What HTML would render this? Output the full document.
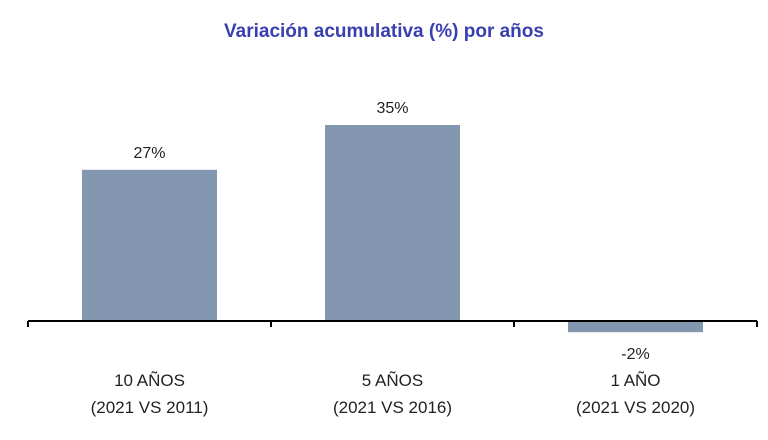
<!DOCTYPE html>
<html><head><meta charset="utf-8"><style>
body{margin:0;background:#fff;}
svg{display:block;font-family:"Liberation Sans",sans-serif;}
</style></head><body>
<svg id="chart" width="768" height="440">
<text x="384" y="37" text-anchor="middle" font-size="19" font-weight="bold" fill="#3a3fb0">Variación acumulativa (%) por años</text>
<g id="bars"></g>
</svg>
<script>
const categories=["10 AÑOS","5 AÑOS","1 AÑO"];
const subLabels=["(2021 VS 2011)","(2021 VS 2016)","(2021 VS 2020)"];
const values=[27,35,-2];
const valueLabels=["27%","35%","-2%"];
const svg=document.getElementById('chart');
const g=document.getElementById('bars');
const NS="http://www.w3.org/2000/svg";
const x0=28,x1=757,baseY=321,scale=5.6;
const band=(x1-x0)/categories.length;
const barW=135;
const y=v=>baseY-v*scale;
function mk(tag,attrs,txt){const e=document.createElementNS(NS,tag);for(const k in attrs)e.setAttribute(k,attrs[k]);if(txt!==undefined)e.textContent=txt;g.appendChild(e);return e;}
categories.forEach((c,i)=>{
  const cx=x0+band*(i+0.5);const v=values[i];
  const top=Math.min(y(v),baseY),h=Math.abs(y(v)-baseY);
  const r=mk('rect',{x:cx-barW/2,y:top,width:barW,height:h,fill:'#8497b0'});
  
  
  const ly=v>=0?y(v)-12:y(v)+27;
  const t=mk('text',{x:cx,y:ly,'text-anchor':'middle','font-size':'16',fill:'#222'},valueLabels[i]);
  
  
  const c1=mk('text',{x:cx,y:386,'text-anchor':'middle','font-size':'17',fill:'#222'},c);
  
  
  const c2=mk('text',{x:cx,y:413,'text-anchor':'middle','font-size':'17',fill:'#222'},subLabels[i]);
  
  
});
const ax=mk('line',{x1:x0,x2:x1,y1:baseY,y2:baseY,stroke:'#000','stroke-width':2});


for(let i=0;i<=categories.length;i++){
  const tx=x0+band*i;
  const tk=mk('line',{x1:tx,x2:tx,y1:baseY,y2:baseY+6,stroke:'#000','stroke-width':2});
  
  
}
</script>
</body></html>
